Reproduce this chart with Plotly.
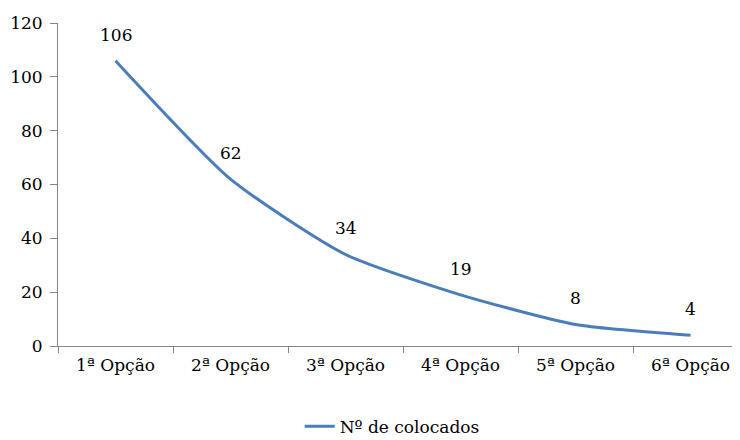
import plotly.graph_objects as graph

categories = ["1ª Opção", "2ª Opção", "3ª Opção", "4ª Opção", "5ª Opção", "6ª Opção"]
colocados = [106, 62, 34, 19, 8, 4]
series_name = "Nº de colocados"

# only the quoted DejaVu Serif gives a serif face in the sandbox
font = dict(family="'DejaVu Serif', serif", size=17, color="black")
line_color = "#4A7EBB"

fig = graph.Figure()
fig.add_trace(graph.Scatter(
    x=categories, y=colocados, mode="lines", name=series_name,
    line=dict(color=line_color, width=3, shape="spline", smoothing=0.6),
))

# value labels above each point
for cat, val in zip(categories, colocados):
    fig.add_annotation(x=cat, y=val, text=str(val), showarrow=False,
                       yshift=26, font=font)

# page body has an 8px margin, so the figure is a bit smaller than the window
fig.update_layout(
    width=732, height=432,
    margin=dict(l=50, r=0, t=15, b=94, autoexpand=False),
    paper_bgcolor="white", plot_bgcolor="white",
    font=font,
    showlegend=True,
    legend=dict(orientation="h", x=0.49, xanchor="center", y=-0.25, yanchor="middle",
                font=font),
)
fig.update_xaxes(
    type="category", range=[-0.5, 5.43], tickson="boundaries",
    showline=True, linecolor="#868686", linewidth=1,
    ticks="outside", ticklen=6, tickcolor="#868686", ticklabelstandoff=4,
    showgrid=False, tickfont=font, automargin=False,
)
fig.update_yaxes(
    range=[0, 120], dtick=20,
    showline=True, linecolor="#868686", linewidth=1,
    ticks="outside", ticklen=7, tickcolor="#868686", ticklabelstandoff=4,
    showgrid=False, zeroline=False, tickfont=font, automargin=False,
)

fig.write_html("out.html")
